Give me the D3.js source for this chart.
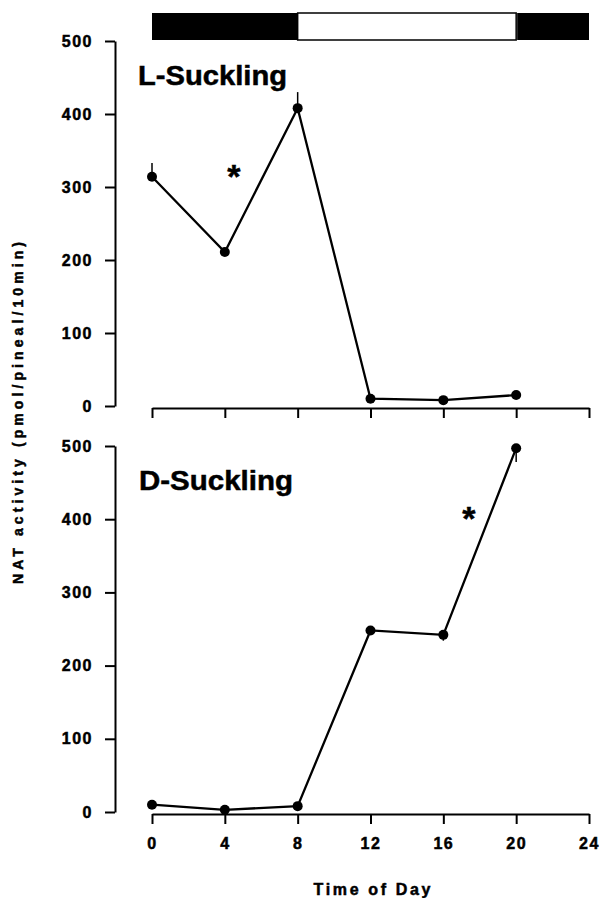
<!DOCTYPE html>
<html>
<head>
<meta charset="utf-8">
<script src="https://cdn.jsdelivr.net/npm/d3@7"></script>
<style>
  body { margin: 0; background: #fff; }
  svg text { font-family: "Liberation Sans", Arial, sans-serif; font-weight: bold; fill: #000; stroke: #000; stroke-width: 0.5px; }
</style>
</head>
<body>
<div id="chart"></div>
<script>
// time of day (h)
var hours = [0, 4, 8, 12, 16, 20];
var xTicks = [0, 4, 8, 12, 16, 20, 24];
var yTicks = [0, 100, 200, 300, 400, 500];

// NAT activity, L-Suckling and D-Suckling
var lSuckling = [314, 211, 408, 10, 8, 15];
var lErr = [19, 0, 22, 0, 0, 0];        // + drawn up, - drawn down
var dSuckling = [10, 3, 8, 248, 242, 497];
var dErr = [0, 0, 0, 0, -8, -19];

// light/dark bar (hours)
var lightOn = 8, lightOff = 20;

// asterisk positions [hour, value]
var starL = [4.5, 326];
var starD = [17.4, 412];

var width = 603, height = 898;
var svg = d3.select("#chart").append("svg")
  .attr("width", width)
  .attr("height", height);

var x = d3.scaleLinear().domain([0, 24]).range([152, 589]);

// top light/dark bar
var bar = svg.append("g");
bar.append("rect").attr("x", x(0)).attr("y", 13).attr("width", x(lightOn) - x(0)).attr("height", 27).attr("fill", "#000");
bar.append("rect").attr("x", x(lightOn)).attr("y", 13).attr("width", x(lightOff) - x(lightOn)).attr("height", 27)
  .attr("fill", "#fff").attr("stroke", "#000").attr("stroke-width", 1.5);
bar.append("rect").attr("x", x(lightOff) + 1).attr("y", 13).attr("width", x(24) - x(lightOff) - 1).attr("height", 27).attr("fill", "#000");

function panel(yTop, yBottom, values, errs, label, labelPos, star, showLabels) {
  var y = d3.scaleLinear().domain([0, 500]).range([yBottom, yTop]);
  var g = svg.append("g");

  var yAxis = g.append("g")
    .attr("transform", "translate(115,0)")
    .call(d3.axisLeft(y).tickValues(yTicks).tickSize(10).tickSizeOuter(0).tickPadding(12));
  yAxis.selectAll("text").style("font-size", "16px").style("letter-spacing", "1.5px");

  var xAxis = g.append("g")
    .attr("transform", "translate(0," + (yBottom + 2) + ")")
    .call(d3.axisBottom(x).tickValues(xTicks).tickSize(10).tickSizeOuter(0).tickPadding(14));
  if (showLabels) {
    xAxis.selectAll("text").style("font-size", "16px").style("letter-spacing", "1.5px");
  } else {
    xAxis.selectAll("text").remove();
  }
  g.selectAll(".domain, .tick line").attr("stroke", "#000").attr("stroke-width", 2);

  var pts = hours.map(function(h, i) { return { h: h, v: values[i], e: errs[i] }; });

  g.selectAll(".err").data(pts.filter(function(d) { return d.e !== 0; }))
    .enter().append("line")
    .attr("x1", function(d) { return x(d.h); })
    .attr("x2", function(d) { return x(d.h); })
    .attr("y1", function(d) { return y(d.v); })
    .attr("y2", function(d) { return y(d.v + d.e); })
    .attr("stroke", "#000").attr("stroke-width", 1.5);

  g.append("path")
    .datum(pts)
    .attr("fill", "none")
    .attr("stroke", "#000")
    .attr("stroke-width", 2.3)
    .attr("d", d3.line()
      .x(function(d) { return x(d.h); })
      .y(function(d) { return y(d.v); }));

  g.selectAll(".pt").data(pts).enter().append("circle")
    .attr("cx", function(d) { return x(d.h); })
    .attr("cy", function(d) { return y(d.v); })
    .attr("r", 5)
    .attr("fill", "#000");

  g.append("text")
    .attr("x", labelPos[0]).attr("y", labelPos[1])
    .attr("textLength", labelPos[2]).attr("lengthAdjust", "spacingAndGlyphs")
    .style("font-size", "27px")
    .text(label);

  g.append("text")
    .attr("x", x(star[0])).attr("y", y(star[1]) + 20)
    .attr("text-anchor", "middle")
    .style("font-size", "34px")
    .text("*");
}

panel(41, 406, lSuckling, lErr, "L-Suckling", [138, 85, 149], starL, false);
panel(446, 812, dSuckling, dErr, "D-Suckling", [139, 490, 154], starD, true);

svg.append("text")
  .attr("x", 372).attr("y", 895)
  .attr("text-anchor", "middle")
  .attr("textLength", 117).attr("lengthAdjust", "spacing")
  .style("font-size", "16px")
  .text("Time of Day");

svg.append("text")
  .attr("transform", "translate(23,413) rotate(-90)")
  .attr("text-anchor", "middle")
  .attr("textLength", 342).attr("lengthAdjust", "spacing")
  .style("font-size", "14px")
  .text("NAT activity (pmol/pineal/10min)");
</script>
</body>
</html>
